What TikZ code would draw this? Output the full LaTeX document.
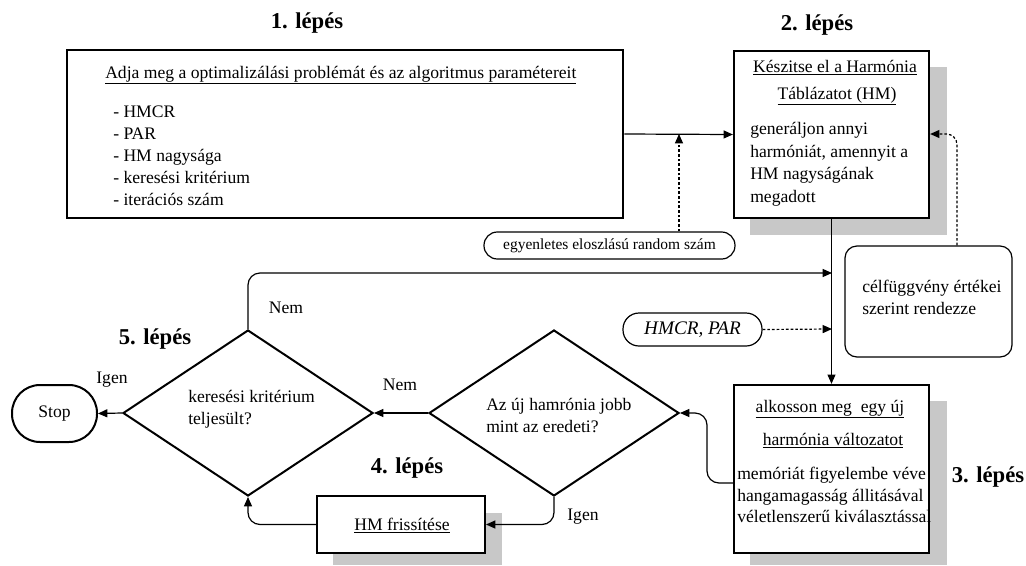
\documentclass[tikz,border=0pt]{standalone}
\usepackage{fontspec}
\setmainfont{Liberation Serif}
\usetikzlibrary{arrows.meta,fit,shapes.geometric}
\definecolor{shadowgray}{RGB}{200,200,200}
\begin{document}
\begin{tikzpicture}[x=0.75pt,y=-0.75pt,
  every node/.style={font=\fontsize{13.2}{16.5}\selectfont, inner sep=0pt},
  steptitle/.style={font=\fontsize{17}{20}\selectfont\bfseries},
  boxthick/.style={draw, line width=2.2pt, fill=white},
  box/.style={draw, line width=1.7pt, fill=white},
  decision/.style={draw, diamond, line width=1.5pt, minimum width=187.5pt,
                   minimum height=124.5pt, inner sep=0pt},
  pill/.style={draw, line width=0.9pt, fill=white},
  arr/.style={line width=0.9pt, -{Triangle[length=7pt,width=6pt]}},
  dasharr/.style={arr, dash pattern=on 2pt off 1.5pt},
  txt/.style={anchor=base west},
  ctxt/.style={anchor=base},
]
\useasboundingbox (0,0) rectangle (1026,565);

% drop shadows
\fill[shadowgray] (750,67) rectangle (947,235);
\fill[shadowgray] (750,401) rectangle (947,565);
\fill[shadowgray] (333,513) rectangle (502,565);

% step titles
\node[steptitle] (s1) at (307,23) {1. lépés};
\node[steptitle] (s2) at (817,25) {2. lépés};
\node[steptitle] (s3) at (988,477) {3. lépés};
\node[steptitle] (s4) at (407,468) {4. lépés};
\node[steptitle] (s5) at (155,339) {5. lépés};

% step 1: parameters
\node[boxthick, fit={(67,50) (623,218)}] (b1) {};
\node[txt] (b1t) at (105,78) {\underline{Adja meg a optimalizálási problémát és az algoritmus paramétereit}};
\foreach \i/\y/\t in {1/117/{- HMCR}, 2/139/{- PAR}, 3/161/{- HM nagysága},
                      4/183/{- keresési kritérium}, 5/205/{- iterációs szám}}
  \node[txt] (b1l\i) at (113,\y) {\t};

% step 2: harmony memory
\node[box, fit={(734,51) (929,218)}] (b2) {};
\node[ctxt] (b2t1) at (835,72) {\underline{Készitse el a Harmónia}};
\node[ctxt] (b2t2) at (837,99) {\underline{Táblázatot (HM)}};
\foreach \i/\y/\t in {1/134/{generáljon annyi}, 2/157/{harmóniát, amennyit a},
                      3/179/{HM nagyságának}, 4/202/{megadott}}
  \node[txt] (b2l\i) at (750,\y) {\t};

% side inputs
\node[pill, rounded corners=10pt, fit={(484,232) (735,259)}] (rnd) {};
\node[font=\fontsize{11.6}{14}\selectfont] (rndt) at (rnd.center) {egyenletes eloszlású random szám};
\node[pill, rounded corners=12pt, fit={(623,313) (762,346)}] (hp) {};
\node[font=\fontsize{14.4}{17}\selectfont\itshape] (hpt) at (hp.center) {HMCR, PAR};
\node[pill, rounded corners=9pt, fit={(845,246) (1012,357)}] (cel) {};
\node[txt] (cel1) at (862,292) {célfüggvény értékei};
\node[txt] (cel2) at (862,314) {szerint rendezze};

% step 3: new harmony
\node[box, fit={(734,385) (929,553)}] (b3) {};
\node[ctxt] (b3t1) at (830,412) {\underline{alkosson meg\ \ egy új}};
\node[ctxt] (b3t2) at (833,445) {\underline{harmónia változatot}};
\foreach \i/\y/\t in {1/479/{memóriát figyelembe véve}, 2/501/{hangamagasság állitásával},
                      3/522/{véletlenszerű kiválasztással}}
  \node[txt] (b3l\i) at (737,\y) {\t};

% step 4: update
\node[draw, line width=1.5pt, fill=white, fit={(317,496) (485,553)}] (b4) {};
\node[ctxt] (b4t) at (402,530) {\underline{HM frissítése}};

% decisions
\node[decision] (d6) at (554,413) {};
\node[txt] (d6a) at (486,410) {Az új hamrónia jobb};
\node[txt] (d6b) at (486,432) {mint az eredeti?};
\node[decision] (d5) at (248,413) {};
\node[txt] (d5a) at (188,402) {keresési kritérium};
\node[txt] (d5b) at (188,424) {teljesült?};

% terminal
\node[draw, line width=1.5pt, rounded corners=21pt, fit={(12,385) (97,442)}] (stop) {};
\node (stopt) at (stop.center) {Stop};

% branch labels
\node (ln1) at (286,308) {Nem};
\node (ln2) at (400,385) {Nem};
\node (li1) at (112,380) {Igen};
\node (li2) at (583,517) {Igen};

% routing points
\coordinate (m1) at (679,134);
\coordinate (m2) at (957,134);
\coordinate (m3) at (832,273);
\coordinate (m4) at (832,329);
\coordinate (m5) at (734,483);
\coordinate (m6) at (707,483);
\coordinate (m7) at (707,413);

% connectors
\draw[arr] (b1.east) -- (b2.west);
\draw[dasharr] (m1 |- rnd.north) -- (m1);
\draw[dasharr, rounded corners=8pt] (m2 |- cel.north) -- (m2) -- (b2.east |- m2);
\draw[arr] (b2.south) -- (b3.north);
\draw[arr, rounded corners=9pt] (d5.north) |- (m3);
\draw[dasharr] (hp.east) -- (m4);
\draw[arr, rounded corners=9pt] (m5) -- (m6) -- (m7) -- (d6.east);
\draw[arr, rounded corners=9pt] (d6.south) |- (b4.east);
\draw[arr, rounded corners=9pt] (b4.west) -| (d5.south);
\draw[arr] (d6.west) -- (d5.east);
\draw[arr] (d5.west) -- (stop.east);
\end{tikzpicture}
\end{document}
